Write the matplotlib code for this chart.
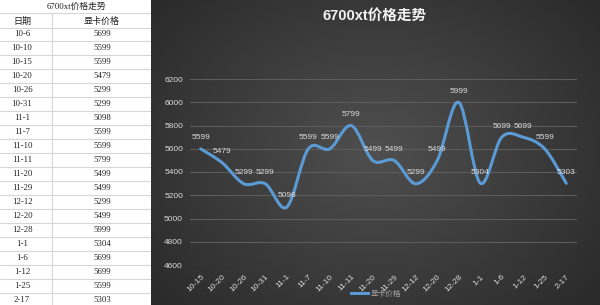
import matplotlib
matplotlib.use("Agg")
import matplotlib.pyplot as plt
import numpy as np
from matplotlib.path import Path
from matplotlib.patches import PathPatch

plt.rcParams["font.family"] = ["Liberation Sans", "Noto Sans CJK SC"]

table_title = "6700xt价格走势"
col_headers = ["日期", "显卡价格"]
dates = ["10-6", "10-10", "10-15", "10-20", "10-26", "10-31", "11-1", "11-7",
         "11-10", "11-11", "11-20", "11-29", "12-12", "12-20", "12-28", "1-1",
         "1-6", "1-12", "1-25", "2-17"]
prices = [5699, 5599, 5599, 5479, 5299, 5299, 5098, 5599, 5599, 5799, 5499,
          5499, 5299, 5499, 5999, 5304, 5699, 5699, 5599, 5303]

# the chart only uses rows from 10-15 on
chart_dates = dates[2:]
chart_prices = prices[2:]
y_ticks = [4600, 4800, 5000, 5200, 5400, 5600, 5800, 6000, 6200]
series_name = "显卡价格"

W, H = 600, 305
fig = plt.figure(figsize=(W / 100, H / 100), dpi=100)
fig.patch.set_facecolor("white")


def fx(px):
    return px / W


def fy(py):
    return 1 - py / H


# ---- table on the left ----
tab = fig.add_axes([0, 0, fx(151), 1])
tab.set_xlim(0, 151)
tab.set_ylim(H, 0)
tab.axis("off")
line_c = "#d6d6d6"
txt_c = "#222222"
serif = ["Liberation Serif", "Noto Sans CJK SC"]
row_h = 13.95
tab.text(76, 6.5, table_title, ha="center", va="center", fontsize=6.3,
         color=txt_c, family=serif)
tab.axhline(13, color=line_c, lw=0.8)
tab.text(22, 21, col_headers[0], ha="center", va="center", fontsize=6.5,
         color=txt_c, family=serif)
tab.text(102, 21, col_headers[1], ha="center", va="center", fontsize=6.5,
         color=txt_c, family=serif)
for i, (d, p) in enumerate(zip(dates, prices)):
    yc = 34.5 + i * row_h
    tab.plot([0, 151], [yc - row_h / 2] * 2, color=line_c, lw=0.8)
    tab.text(22, yc, d, ha="center", va="center", fontsize=6.3,
             color=txt_c, family=serif)
    tab.text(102, yc, str(p), ha="center", va="center", fontsize=6.3,
             color=txt_c, family=serif)
tab.plot([52, 52], [13, H], color=line_c, lw=0.8)

# ---- dark gradient background for the chart ----
bg = fig.add_axes([fx(151), 0, 1 - fx(151), 1])
bg.axis("off")
gx, gy = np.meshgrid(np.linspace(151, 600, 300), np.linspace(0, 305, 200))
r = np.sqrt(((gx - 375) / 260) ** 2 + ((gy - 150) / 210) ** 2)
shade = np.clip(0.31 - 0.13 * r, 0.15, 0.31)
bg.imshow(np.dstack([shade] * 3), extent=[151, 600, 305, 0], aspect="auto")
bg.set_xlim(151, 600)
bg.set_ylim(305, 0)

fig.text(fx(375), fy(16), "6700xt价格走势", ha="center", va="center",
         fontsize=10.5, fontweight="bold", color="#f2f2f2")

# ---- line chart ----
ax = fig.add_axes([fx(190), fy(265), fx(577 - 190), (265 - 79) / H])
ax.patch.set_alpha(0)
x = np.arange(len(chart_prices))
ax.set_xlim(-0.5, len(chart_prices) - 0.5)
ax.set_ylim(4600, 6200)
ax.set_yticks(y_ticks)
ax.yaxis.grid(True, color="#5c5c5c", lw=0.8)
ax.set_axisbelow(True)
for s in ax.spines.values():
    s.set_visible(False)
ax.tick_params(length=0, colors="#d9d9d9", labelsize=6)
ax.tick_params(axis="y", pad=5)
ax.set_xticks(x)
ax.set_xticklabels(chart_dates, rotation=45, ha="right",
                   rotation_mode="anchor")
ax.tick_params(axis="x", pad=6)

# smoothed line like excel (catmull-rom bezier)
pts = np.column_stack([x, chart_prices]).astype(float)
verts = [pts[0]]
codes = [Path.MOVETO]
n = len(pts)
for i in range(n - 1):
    p0 = pts[max(i - 1, 0)]
    p1 = pts[i]
    p2 = pts[i + 1]
    p3 = pts[min(i + 2, n - 1)]
    c1 = p1 + (p2 - p0) / 6
    c2 = p2 - (p3 - p1) / 6
    verts += [c1, c2, p2]
    codes += [Path.CURVE4] * 3
ax.add_patch(PathPatch(Path(verts, codes), fill=False, edgecolor="#5b9bd5",
                       lw=2.2, capstyle="round", joinstyle="round"))
ax.plot([], [], color="#5b9bd5", lw=2.2, label=series_name)

for xi, v in zip(x, chart_prices):
    ax.annotate(str(v), (xi, v), xytext=(0, 8), textcoords="offset points",
                ha="center", va="center", fontsize=6, color="#d9d9d9")

ax.legend(loc="center", bbox_to_anchor=(fx(376), fy(294)),
          bbox_transform=fig.transFigure, frameon=False, fontsize=5.5,
          labelcolor="#a6a6a6", handlelength=2.2, handletextpad=0.3)

fig.savefig("out.png", dpi=100, facecolor=fig.get_facecolor())
